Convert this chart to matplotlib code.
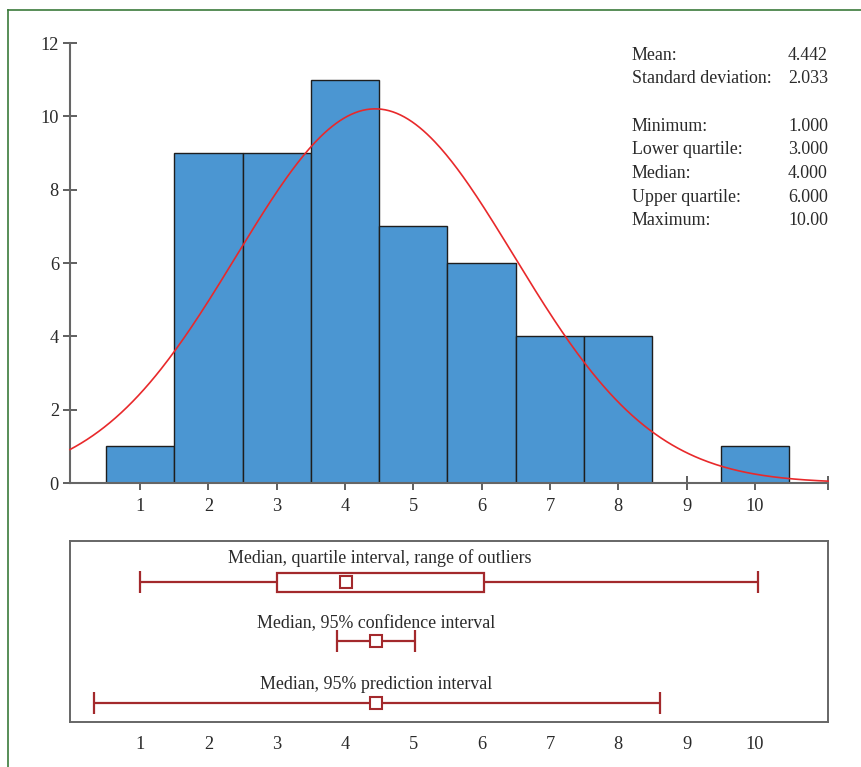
import numpy as np
import matplotlib
matplotlib.use('Agg')
import matplotlib.pyplot as plt
from matplotlib.patches import Rectangle
from matplotlib.lines import Line2D

# histogram data
bins = [1, 2, 3, 4, 5, 6, 7, 8, 9, 10]
counts = [1, 9, 9, 11, 7, 6, 4, 4, 0, 1]

# summary statistics (as printed)
stat_labels = ['Mean:', 'Standard deviation:', '', 'Minimum:', 'Lower quartile:',
               'Median:', 'Upper quartile:', 'Maximum:']
stat_values = ['4.442', '2.033', '', '1.000', '3.000', '4.000', '6.000', '10.00']
mean, sd = 4.442, 2.033

# interval rows (low, median, high)
quartile_box = [3.0, 4.02, 6.03]
outlier_range = [1.0, 10.05]
conf_int = [3.89, 4.46, 5.03]
pred_int = [0.32, 4.46, 8.61]
row_titles = ['Median, quartile interval, range of outliers',
              'Median, 95% confidence interval',
              'Median, 95% prediction interval']

plt.rcParams['font.family'] = ['Liberation Serif', 'DejaVu Serif']
W, H = 862, 767
fig = plt.figure(figsize=(W / 100, H / 100), dpi=100)

BAR = '#4b96d2'
RED = '#e8292b'
DRED = '#a3292c'
GRAY = '#666666'
TXT = '#2a2a2a'
FS = 12.9
xmin, xmax = -0.025, 11.07

# ---- histogram ----
ax = fig.add_axes([70 / W, (H - 483) / H, 758 / W, 440 / H])
ax.bar(bins, counts, width=1.0, color=BAR, edgecolor='#1e1e1e', linewidth=1.0, zorder=2)
xs = np.linspace(xmin, xmax, 400)
n = sum(counts)
ax.plot(xs, n / (sd * np.sqrt(2 * np.pi)) * np.exp(-(xs - mean) ** 2 / (2 * sd ** 2)),
        color=RED, lw=1.2, zorder=3, clip_on=False)
ax.set_xlim(xmin, xmax)
ax.set_ylim(0, 12)
for s in ['top', 'right']:
    ax.spines[s].set_visible(False)
for s in ['left', 'bottom']:
    ax.spines[s].set_color(GRAY)
    ax.spines[s].set_linewidth(1.5)
ax.set_xticks(bins)
ax.set_xticks([xmax], minor=True)
ax.set_yticks(range(0, 13, 2))
ax.tick_params(axis='both', which='both', direction='inout', length=10, width=1.2,
               color='#444444', labelsize=13.2, labelcolor=TXT)
ax.tick_params(axis='x', pad=6)
ax.tick_params(axis='y', pad=3)
ax.patch.set_alpha(0)

# stats block
row_h = 23.7
for i, (lab, val) in enumerate(zip(stat_labels, stat_values)):
    y = (H - 55 - i * row_h) / H
    fig.text(632 / W, y, lab, ha='left', va='center', fontsize=FS, color=TXT)
    fig.text(828 / W, y, val, ha='right', va='center', fontsize=FS, color=TXT)

# ---- interval panel ----
bx = fig.add_axes([70 / W, (H - 722) / H, 758 / W, 181.3 / H])
bx.set_xlim(xmin, xmax)
bx.set_ylim(722, 540.7)
rows_y = [582, 641, 703]
titles_y = [558, 624, 684]
mk = dict(marker='s', ms=8, mfc='white', mec=DRED, mew=1.5, zorder=5)

# row 1: whiskers + quartile box + median
bx.errorbar([np.mean(outlier_range)], [rows_y[0]],
            xerr=[[np.mean(outlier_range) - outlier_range[0]],
                  [outlier_range[1] - np.mean(outlier_range)]],
            fmt='none', ecolor=DRED, elinewidth=1.6, capsize=8, capthick=1.6)
bx.add_patch(Rectangle((quartile_box[0], rows_y[0] - 9.5), quartile_box[2] - quartile_box[0], 19,
                       facecolor='white', edgecolor=DRED, lw=1.6, zorder=4))
bx.plot([quartile_box[1]], [rows_y[0]], **mk)

for (lo, med, hi), y in zip([conf_int, pred_int], rows_y[1:]):
    bx.errorbar([med], [y], xerr=[[med - lo], [hi - med]], fmt='none',
                ecolor=DRED, elinewidth=1.6, capsize=8, capthick=1.6)
    bx.plot([med], [y], **mk)

title_x = [(quartile_box[0] + quartile_box[2]) / 2, conf_int[1], pred_int[1]]
for t, tx, ty in zip(row_titles, title_x, titles_y):
    bx.text(tx, ty, t, ha='center', va='center', fontsize=FS, color=TXT)

bx.set_yticks([])
bx.set_xticks(bins)
bx.tick_params(axis='x', length=0, pad=10, labelsize=13.2, labelcolor=TXT)
for s in bx.spines.values():
    s.set_color(GRAY)
    s.set_linewidth(1.4)

# green frame (left and top edges)
fig.add_artist(Line2D([8.5 / W, 8.5 / W], [0, (H - 10) / H], color='#3b7a3b', lw=1.2))
fig.add_artist(Line2D([8.5 / W, 1], [(H - 10) / H, (H - 10) / H], color='#3b7a3b', lw=1.2))

fig.savefig('out.png', dpi=100)
